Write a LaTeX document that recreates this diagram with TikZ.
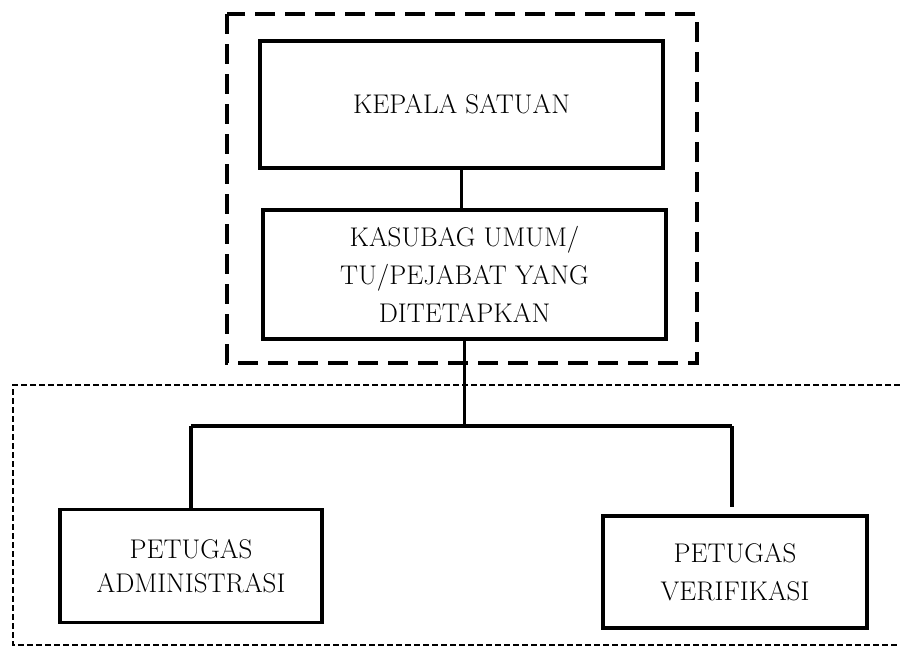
\documentclass[tikz,border=0pt]{standalone}
\begin{document}
\begin{tikzpicture}[x=1pt,y=-1pt,
  box/.style={draw, line width=3.2pt, align=center, inner sep=0pt,
    font=\fontsize{27}{38}\selectfont},
  link/.style={line width=3.2pt},
  grpouter/.style={line width=3.2pt, dash pattern=on 20pt off 10pt},
  grpinner/.style={line width=2.8pt, dash pattern=on 6pt off 3pt}]
\useasboundingbox (0,0) rectangle (900,653);
% groups
\draw[grpouter] (227,14) rectangle (697,363);
\draw[grpinner] (900,385) -- (13,385) -- (13,645) -- (900,645);
% nodes
\node[box, minimum width=403pt, minimum height=127pt] (kepala) at (461.5,104.5) {KEPALA SATUAN};
\node[box, minimum width=403pt, minimum height=129pt] (kasubag) at (464.5,274.5) {KASUBAG UMUM/\\TU/PEJABAT YANG\\DITETAPKAN};
\node[box, minimum width=262pt, minimum height=113pt, font=\fontsize{27}{34}\selectfont] (admin) at (191,566) {PETUGAS\\ADMINISTRASI};
\node[box, minimum width=264pt, minimum height=112pt] (verif) at (735,572) {PETUGAS\\VERIFIKASI};
% connectors
\coordinate (busL) at (admin.north |- 0,426);
\coordinate (busR) at (732,426);
\draw[link] (kepala.south) -- (kepala.south |- kasubag.north);
\draw[link] (kasubag.south) -- (kasubag.south |- busL);
\draw[link] (busL) -- (busR);
\draw[link] (busL) -- (admin.north);
\draw[link] (busR) -- (busR |- 0,507);
\end{tikzpicture}
\end{document}
